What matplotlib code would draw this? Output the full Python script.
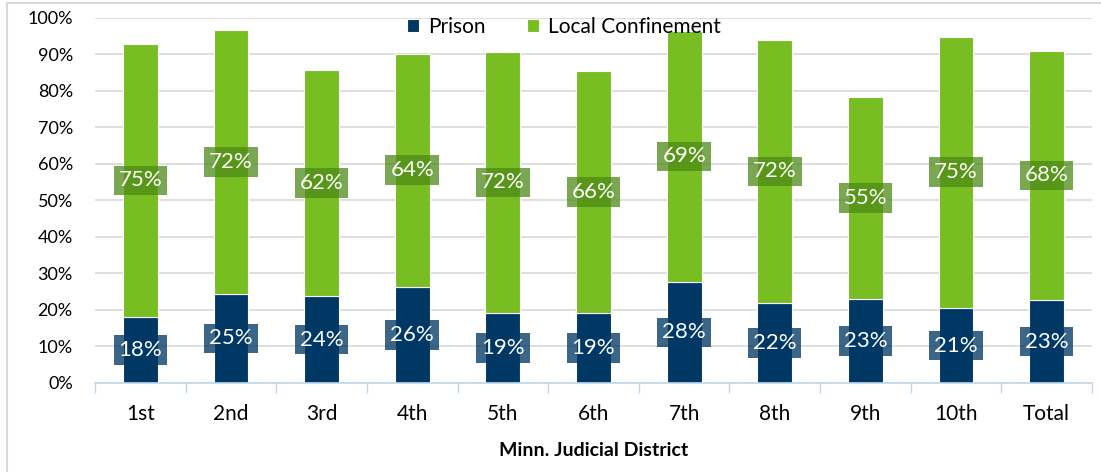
import numpy as np
import matplotlib.pyplot as plt
from matplotlib.lines import Line2D
from matplotlib.ticker import FuncFormatter, FixedLocator

plt.rcParams['font.family'] = ['Lato', 'DejaVu Sans']

districts = ['1st', '2nd', '3rd', '4th', '5th', '6th', '7th', '8th', '9th', '10th', 'Total']
prison = [18.1, 24.4, 23.8, 26.4, 19.2, 19.2, 27.7, 21.9, 23.0, 20.5, 22.7]
local_conf = [74.8, 72.3, 62.0, 63.7, 71.5, 66.3, 68.7, 72.1, 55.4, 74.4, 68.3]
prison_labels = ['18%', '25%', '24%', '26%', '19%', '19%', '28%', '22%', '23%', '21%', '23%']
local_labels = ['75%', '72%', '62%', '64%', '72%', '66%', '69%', '72%', '55%', '75%', '68%']

navy = '#003865'
green = '#78BD22'

fig = plt.figure(figsize=(11.01, 4.72), dpi=100)
ax = fig.add_axes([0.0863, 0.1886, 0.9055, 0.7733])

x = np.arange(len(districts))
w = 0.385
ax.bar(x, prison, w, color=navy, edgecolor='white', linewidth=0.8, label='Prison', zorder=2)
ax.bar(x, local_conf, w, bottom=prison, color=green, edgecolor='white', linewidth=0.8,
       label='Local Confinement', zorder=2)

# data labels in translucent boxes
for i in range(len(districts)):
    ax.text(x[i], prison[i] / 2, prison_labels[i], ha='center', va='center',
            color='white', fontsize=16, zorder=4,
            bbox=dict(boxstyle='square,pad=0.22', fc=navy, ec='none', alpha=0.77))
    ax.text(x[i], prison[i] + local_conf[i] / 2, local_labels[i], ha='center', va='center',
            color='white', fontsize=16, zorder=4,
            bbox=dict(boxstyle='square,pad=0.22', fc='#4E8A17', ec='none', alpha=0.75))

ax.set_xlim(-0.5, len(districts) - 0.5)
ax.set_ylim(0, 100)
ax.set_yticks(np.arange(0, 101, 10))
ax.yaxis.set_major_formatter(FuncFormatter(lambda v, p: '%d%%' % v))
ax.grid(axis='y', color='#D9D9D9', linewidth=1.2, zorder=0)
ax.set_axisbelow(True)

ax.set_xticks(x)
ax.set_xticklabels(districts, fontsize=15)
ax.xaxis.set_minor_locator(FixedLocator(np.arange(-0.5, len(districts), 1)))
ax.tick_params(axis='x', which='major', length=0, pad=15)
ax.tick_params(axis='x', which='minor', length=7, color='#BDD7EE', width=1)
ax.tick_params(axis='y', length=0, labelsize=13, pad=16)

for s in ['top', 'right', 'left']:
    ax.spines[s].set_visible(False)
ax.spines['bottom'].set_color('#BDD7EE')
ax.spines['bottom'].set_linewidth(1.2)

ax.set_xlabel('Minn. Judicial District', fontsize=14, fontweight='bold', labelpad=13)

fig.legend(loc='center', bbox_to_anchor=(0.512, 0.943), ncol=2, frameon=False,
           fontsize=15, handlelength=0.6, handleheight=0.6, handletextpad=0.4,
           columnspacing=2.0)

# outer chart border (left and top visible)
fig.add_artist(Line2D([7 / 1101, 7 / 1101], [0, 1 - 3 / 472], transform=fig.transFigure,
                      color='#D9D9D9', linewidth=1.5))
fig.add_artist(Line2D([7 / 1101, 1], [1 - 3 / 472, 1 - 3 / 472], transform=fig.transFigure,
                      color='#D9D9D9', linewidth=1.5))

fig.savefig('out.png', dpi=100)
